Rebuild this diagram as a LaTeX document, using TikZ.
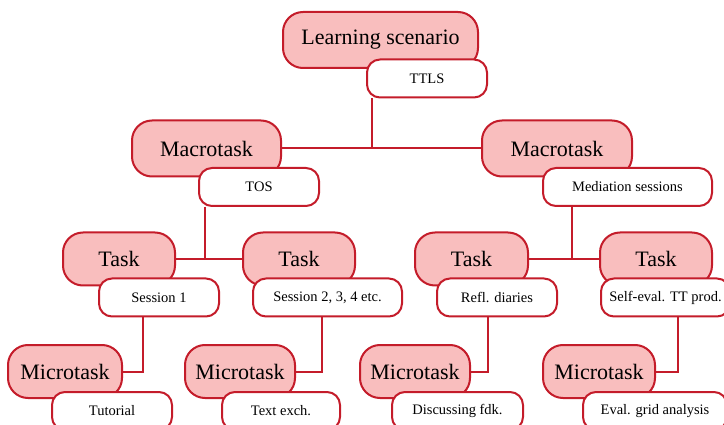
\documentclass[tikz,border=0pt]{standalone}
\usepackage{fontspec}
\setmainfont{Liberation Serif}
\usetikzlibrary{positioning}

\definecolor{boxred}{HTML}{C41C2A}
\definecolor{boxpink}{HTML}{F9BEBE}

\begin{document}
\begin{tikzpicture}[x=1pt,y=-1pt,
  level/.style={draw=boxred, fill=boxpink, line width=2pt, rounded corners=20pt,
    minimum height=53pt, inner sep=0pt, font=\fontsize{22}{22}\selectfont},
  tag/.style={draw=boxred, fill=white, line width=2pt, rounded corners=13pt,
    minimum height=38pt, inner sep=0pt, font=\fontsize{14.5}{14.5}\selectfont},
  link/.style={draw=boxred, line width=2pt}]

\useasboundingbox (0,0) rectangle (724,425);

% top level
\node[level, minimum width=195pt, minimum height=56pt] (scen) at (380.5,40) {Learning scenario};
\node[tag, minimum width=120pt] (ttls) at (427,78.5) {TTLS};

% macrotasks
\node[level, minimum width=149pt, minimum height=56pt] (macA) at (206.5,148.5) {Macrotask};
\node[tag, minimum width=120pt] (tos) at (259,187) {TOS};
\node[level, minimum width=150pt, minimum height=56pt] (macB) at (557,148.5) {Macrotask};
\node[tag, minimum width=169pt] (med) at (627.5,187) {Mediation sessions};

% tasks
\node[level, minimum width=112pt] (taskA) at (119,259) {Task};
\node[tag, minimum width=120pt] (sesA) at (159,297.5) {Session 1};
\node[level, minimum width=112pt] (taskB) at (299,259) {Task};
\node[tag, minimum width=149pt] (sesB) at (327.5,297.5) {Session 2, 3, 4 etc.};
\node[level, minimum width=113pt] (taskC) at (471.5,259) {Task};
\node[tag, minimum width=120pt] (refl) at (497,297.5) {Refl. diaries};
\node[level, minimum width=112pt] (taskD) at (656,259) {Task};
\node[tag, minimum width=129pt] (self) at (665.5,297.5) {Self-eval. TT prod.};

% microtasks
\node[level, minimum width=114pt] (micA) at (65,371.5) {Microtask};
\node[tag, minimum width=120pt] (tut) at (112,411) {Tutorial};
\node[level, minimum width=110pt] (micB) at (240,371.5) {Microtask};
\node[tag, minimum width=118pt] (txt) at (281,411) {Text exch.};
\node[level, minimum width=110pt] (micC) at (415,371.5) {Microtask};
\node[tag, minimum width=131pt] (disc) at (457.5,411) {Discussing fdk.};
\node[level, minimum width=112pt] (micD) at (599,371.5) {Microtask};
\node[tag, minimum width=144pt] (eval) at (655,411) {Eval. grid analysis};

% joints
\coordinate (j0) at (372,148.5);
\coordinate (j1) at (205,259);
\coordinate (j2) at (572,259);
\coordinate (j3) at (143,371.5);
\coordinate (j4) at (322,371.5);
\coordinate (j5) at (488,371.5);
\coordinate (j6) at (678,371.5);

\draw[link] (macA.east) -- (macB.west);
\draw[link] (j0 |- ttls.south) -- (j0);
\draw[link] (taskA.east) -- (taskB.west);
\draw[link] (j1 |- tos.south) -- (j1);
\draw[link] (taskC.east) -- (taskD.west);
\draw[link] (j2 |- med.south) -- (j2);
\draw[link] (j3 |- sesA.south) -- (j3) -- (micA.east);
\draw[link] (j4 |- sesB.south) -- (j4) -- (micB.east);
\draw[link] (j5 |- refl.south) -- (j5) -- (micC.east);
\draw[link] (j6 |- self.south) -- (j6) -- (micD.east);
\end{tikzpicture}
\end{document}
